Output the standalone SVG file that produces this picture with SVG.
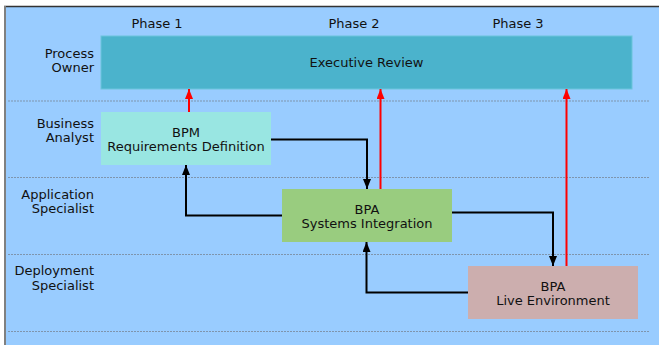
<svg xmlns="http://www.w3.org/2000/svg" width="659" height="345" viewBox="0 0 659 345">
<style>
text{font-family:"DejaVu Sans",Verdana,sans-serif;font-size:13px;fill:#111}
.c{text-anchor:middle}
.r{text-anchor:end}
.lane{stroke:#7f95ad;stroke-width:1;stroke-dasharray:2,1}
.blk{fill:none;stroke:#000;stroke-width:2}
.red{fill:none;stroke:#ff0000;stroke-width:2}
</style>
<defs>
<marker id="ab" viewBox="0 0 10 8" refX="10" refY="4" markerWidth="10" markerHeight="8" markerUnits="userSpaceOnUse" orient="auto"><path d="M0,0L10,4L0,8z" fill="#000"/></marker>
<marker id="ar" viewBox="0 0 10 8" refX="10" refY="4" markerWidth="10" markerHeight="8" markerUnits="userSpaceOnUse" orient="auto"><path d="M0,0L10,4L0,8z" fill="#ff0000"/></marker>
</defs>
<rect x="0" y="0" width="659" height="345" fill="#fff"/>
<rect x="4" y="6" width="655" height="339" fill="#99ccff"/>
<line x1="4" y1="6.5" x2="659" y2="6.5" stroke="#333" stroke-width="1.5"/>
<line x1="5" y1="6" x2="5" y2="345" stroke="#808080" stroke-width="2"/>
<g id="lanes">
<line class="lane" x1="8" y1="101" x2="649" y2="101"/>
<line class="lane" x1="8" y1="177.5" x2="649" y2="177.5"/>
<line class="lane" x1="8" y1="254.5" x2="649" y2="254.5"/>
<line class="lane" x1="8" y1="331.5" x2="649" y2="331.5"/>
</g>
<g id="labels">
<text class="c" x="157" y="28">Phase 1</text>
<text class="c" x="354" y="28">Phase 2</text>
<text class="c" x="518" y="28">Phase 3</text>
<text class="r" x="94" y="58">Process</text>
<text class="r" x="94" y="72">Owner</text>
<text class="r" x="94" y="128">Business</text>
<text class="r" x="94" y="142">Analyst</text>
<text class="r" x="94" y="199">Application</text>
<text class="r" x="94" y="213">Specialist</text>
<text class="r" x="94" y="275">Deployment</text>
<text class="r" x="94" y="290">Specialist</text>
</g>
<g id="exec">
<rect x="101" y="36" width="531" height="53" fill="#4bb3cc" stroke="#6cc4dc" stroke-width="1"/>
<text class="c" x="366.5" y="67">Executive Review</text>
</g>
<g id="bpm">
<rect x="101" y="112" width="170" height="53" fill="#99e6e2"/>
<text class="c" x="186" y="137">BPM</text>
<text class="c" x="186" y="151">Requirements Definition</text>
</g>
<g id="bpa-si">
<rect x="282" y="189" width="170" height="53" fill="#99cc7f"/>
<text class="c" x="367" y="213.5">BPA</text>
<text class="c" x="367" y="228">Systems Integration</text>
</g>
<g id="bpa-le">
<rect x="468" y="266" width="170" height="53" fill="#ccaeae"/>
<text class="c" x="553" y="290.5">BPA</text>
<text class="c" x="553" y="305">Live Environment</text>
</g>
<g id="connectors">
<path class="red" d="M189,112V89" marker-end="url(#ar)"/>
<path class="red" d="M380.5,189V89" marker-end="url(#ar)"/>
<path class="red" d="M566.5,266V89" marker-end="url(#ar)"/>
<path class="blk" d="M271,139.5H367V189" marker-end="url(#ab)"/>
<path class="blk" d="M282,215.5H186V165" marker-end="url(#ab)"/>
<path class="blk" d="M452,212.5H553V266" marker-end="url(#ab)"/>
<path class="blk" d="M468,292.5H366.5V242" marker-end="url(#ab)"/>
</g>
</svg>
